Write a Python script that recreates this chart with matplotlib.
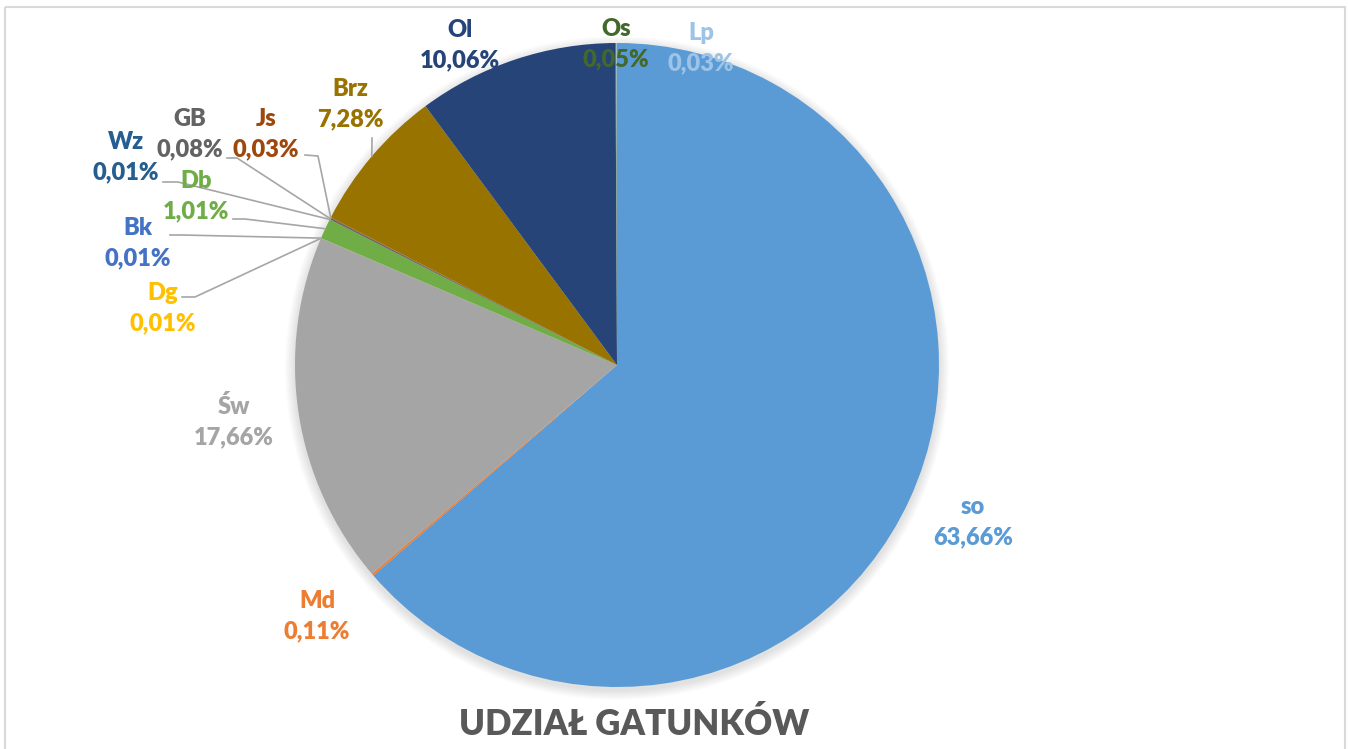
import matplotlib.pyplot as plt
import numpy as np
from matplotlib.patches import Rectangle, Circle

# Data: species share (clockwise from top)
species = ['so', 'Md', 'Św', 'Dg', 'Bk', 'Db', 'Wz', 'GB', 'Js', 'Brz', 'Ol', 'Os', 'Lp']
shares = [63.66, 0.11, 17.66, 0.01, 0.01, 1.01, 0.01, 0.08, 0.03, 7.28, 10.06, 0.05, 0.03]
slice_colors = ['#5B9BD5', '#ED7D31', '#A5A5A5', '#FFC000', '#4472C4', '#70AD47',
                '#255E91', '#636363', '#9E480E', '#997300', '#264478', '#43682B', '#9DC3E6']
label_colors = ['#5B9BD5', '#ED7D31', '#A5A5A5', '#FFC000', '#4472C4', '#70AD47',
                '#255E91', '#636363', '#9E480E', '#997300', '#264478', '#43682B', '#9DC3E6']
title = 'UDZIAŁ GATUNKÓW'

# Layout in pixel coordinates (y measured from the top)
W, H = 1348, 749
cx, cy, R = 617, 365, 322
label_pos = [(973, 522), (317, 616), (234, 422), (163, 308), (138, 243), (196, 196),
             (126, 157), (190, 134), (266, 134), (350, 104), (460, 45), (616, 44), (701, 48)]
# leader lines: label side start, elbow
leaders = {'Dg': ((182, 297), (195, 297)), 'Bk': ((170, 235), (182, 235)),
           'Db': ((233, 219), (245, 219)), 'Wz': ((163, 182), (178, 182)),
           'GB': ((227, 158), (237, 158)), 'Js': ((305, 155), (318, 156)),
           'Brz': ((372, 138), (372, 140))}

fig = plt.figure(figsize=(W / 100, H / 100), dpi=100)
ax = fig.add_axes([0, 0, 1, 1])

# soft shadow around the pie
for i in range(10):
    ax.add_patch(Circle((cx, cy + 3), R + 10 - i, color='black', alpha=0.012, lw=0, zorder=1))

# y axis is inverted, so startangle=-90 with counterclock=True runs clockwise from the top
wedges, _ = ax.pie(shares, colors=slice_colors, startangle=-90, counterclock=True,
                   center=(cx, cy), radius=R, frame=True,
                   wedgeprops=dict(linewidth=0, zorder=2))
ax.set_xlim(0, W)
ax.set_ylim(H, 0)
ax.set_aspect('equal')
ax.axis('off')

for w, name, val, col, (lx, ly) in zip(wedges, species, shares, label_colors, label_pos):
    txt = f"{name}\n{val:.2f}%".replace('.', ',')
    ax.text(lx, ly, txt, ha='center', va='center', color=col, fontsize=17,
            fontweight='heavy', family='Lato', linespacing=1.45, zorder=5)
    if name in leaders:
        ang = np.deg2rad((w.theta1 + w.theta2) / 2)
        ex, ey = cx + R * np.cos(ang), cy + R * np.sin(ang)
        (sx, sy), (bx, by) = leaders[name]
        ax.plot([sx, bx, ex], [sy, by, ey], color='#A6A6A6', lw=1.2, zorder=4)

ax.text(634, 724, title, ha='center', va='center', color='#595959', fontsize=25,
        fontweight='heavy', family='Lato')

# chart border
ax.add_patch(Rectangle((5, 7), 1340, 760, fill=False, edgecolor='#D9D9D9', lw=1.5, zorder=6))

fig.savefig('out.png', dpi=100)
